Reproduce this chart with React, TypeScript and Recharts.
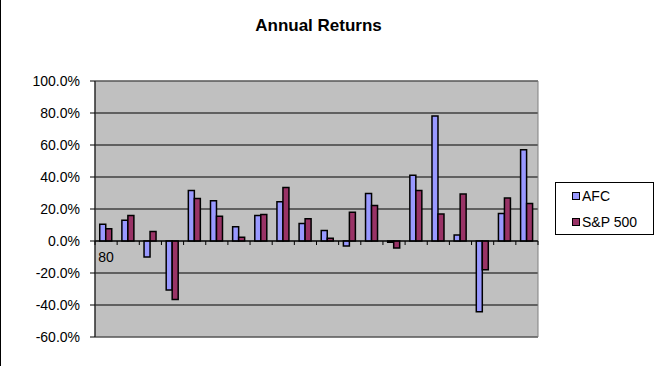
import React from 'react';
import {
  BarChart,
  Bar,
  XAxis,
  YAxis,
  CartesianGrid,
  ReferenceLine,
  ReferenceArea,
  Legend,
} from 'recharts';

const years = ['80', '81', '82', '83', '84', '85', '86', '87', '88', '89', '90', '91', '92', '93', '94', '95', '96', '97', '98', '99'];
const afcReturns = [10.4, 12.9, -10.0, -30.7, 31.5, 25.1, 8.9, 16.0, 24.5, 11.0, 6.6, -3.1, 29.7, -0.8, 41.1, 78.2, 3.7, -44.2, 17.2, 57.1];
const spReturns = [7.7, 16.0, 6.0, -36.5, 26.6, 15.4, 2.3, 16.6, 33.4, 13.9, 1.7, 18.0, 22.2, -4.4, 31.5, 16.8, 29.3, -18.0, 26.8, 23.4];
const yTicks = [-60, -40, -20, 0, 20, 40, 60, 80, 100];

const FONT = '"Liberation Sans", Arial, sans-serif';

const data = years.map((year, i) => ({
  year,
  afc: afcReturns[i],
  sp: spReturns[i],
}));

// Excel-style category axis sitting on the zero line: ticks between categories, only first label shown
const ZeroAxisTicks = (props: any) => {
  const vb = props.viewBox;
  if (!vb) return null;
  const band = vb.width / years.length;
  const marks = [];
  for (let i = 0; i <= years.length; i++) {
    const x = vb.x + i * band;
    marks.push(<line key={i} x1={x} x2={x} y1={vb.y} y2={vb.y + 4} stroke="#000" />);
  }
  return (
    <g>
      {marks}
      <text x={vb.x + band / 2} y={vb.y + 21} textAnchor="middle" fontSize={14} fontFamily={FONT} fill="#000">
        {years[0]}
      </text>
    </g>
  );
};

const LegendBox = (props: any) => {
  const items = props.payload || [];
  return (
    <div
      style={{
        width: 99,
        height: 53,
        boxSizing: 'border-box',
        border: '1px solid #000',
        background: '#fff',
        paddingLeft: 16,
        fontFamily: FONT,
        fontSize: 14,
        color: '#000',
      }}
    >
      {items.map((entry: any) => (
        <div key={entry.value} style={{ height: 26, display: 'flex', alignItems: 'center' }}>
          <span
            style={{
              display: 'inline-block',
              width: 6,
              height: 6,
              border: '1.5px solid #000',
              background: entry.color,
              marginRight: 2,
            }}
          />
          <span>{entry.value}</span>
        </div>
      ))}
    </div>
  );
};

export default function App() {
  return (
    <div
      style={{
        position: 'absolute',
        left: 0,
        top: 0,
        width: 663,
        height: 366,
        background: '#fff',
        borderLeft: '1px solid #000',
        boxSizing: 'border-box',
        fontFamily: FONT,
      }}
    >
      <div
        style={{
          position: 'absolute',
          left: 0,
          top: 17,
          width: 635,
          textAlign: 'center',
          fontSize: 17,
          lineHeight: '17px',
          fontWeight: 'bold',
          color: '#000',
        }}
      >
        Annual Returns
      </div>
      <div style={{ position: 'absolute', left: -1, top: 0 }}>
        <BarChart
          width={663}
          height={366}
          data={data}
          margin={{ top: 81, right: 125, bottom: 29, left: 0 }}
          barCategoryGap="21.4%"
          barGap={0}
        >
          <CartesianGrid vertical={false} stroke="#000" fill="#C0C0C0" />
          <XAxis dataKey="year" hide />
          <YAxis
            width={95}
            domain={[-60, 100]}
            ticks={yTicks}
            interval={0}
            tickFormatter={(v: number) => `${v.toFixed(1)}%`}
            axisLine={{ stroke: '#000' }}
            tickLine={{ stroke: '#000' }}
            tickSize={5}
            tickMargin={10}
            tick={{ fill: '#000', fontSize: 14, fontFamily: FONT }}
          />
          <ReferenceArea y1={-60} y2={100} fill="none" stroke="#808080" strokeWidth={1} ifOverflow="visible" />
          <Legend
            layout="vertical"
            align="center"
            verticalAlign="middle"
            content={<LegendBox />}
            wrapperStyle={{ left: 555, top: 182, width: 99, height: 53 }}
          />
          <Bar dataKey="afc" name="AFC" fill="#9999FF" stroke="#000" strokeWidth={1.5} isAnimationActive={false} />
          <Bar dataKey="sp" name="S&P 500" fill="#993366" stroke="#000" strokeWidth={1.5} isAnimationActive={false} />
          <ReferenceLine y={0} stroke="#000" label={<ZeroAxisTicks />} />
        </BarChart>
      </div>
    </div>
  );
}
